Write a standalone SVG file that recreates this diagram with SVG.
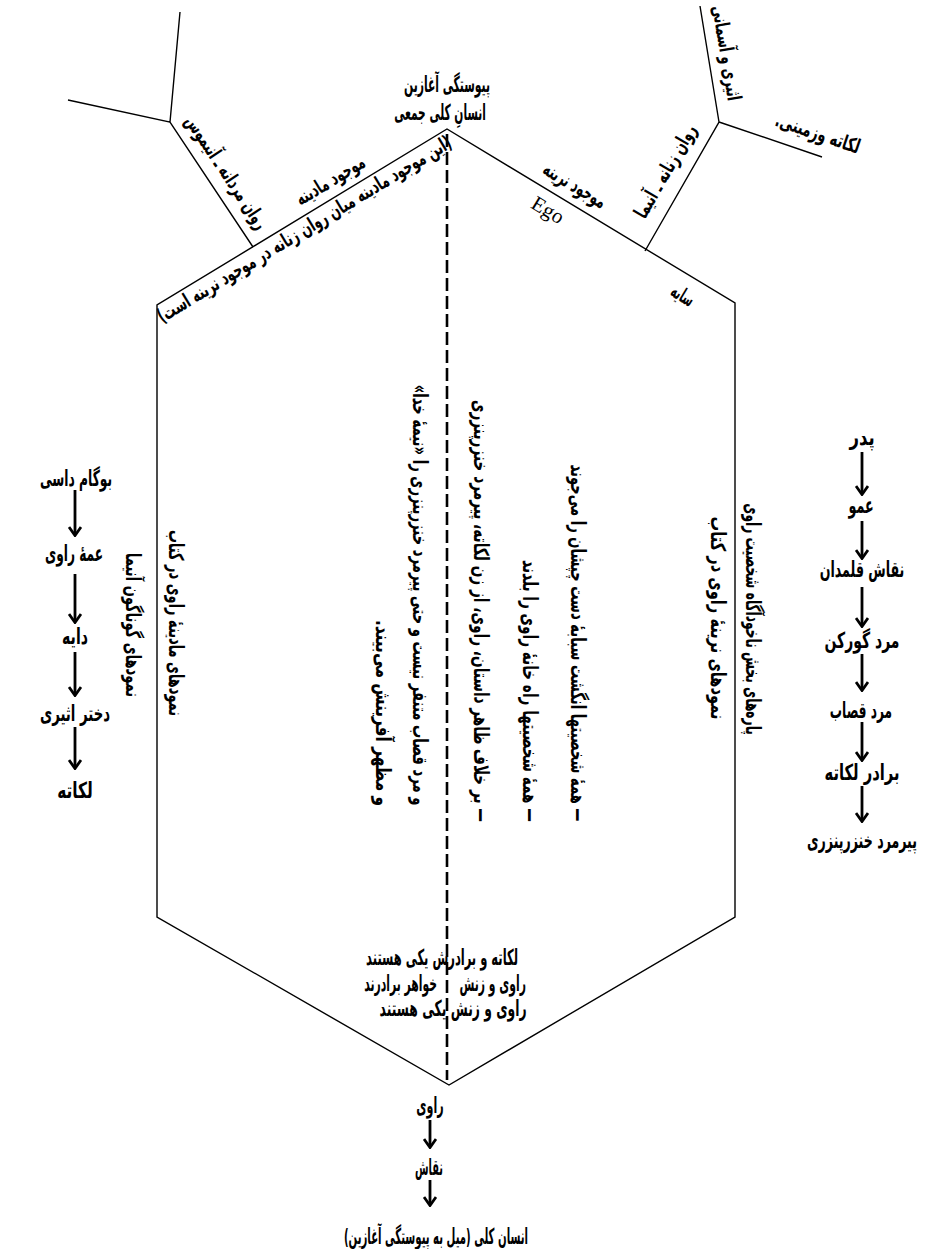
<svg xmlns="http://www.w3.org/2000/svg" width="940" height="1249" viewBox="0 0 940 1249">
<style>
.e{fill:none;stroke:#000;stroke-width:1.4;stroke-linejoin:miter}
.d{fill:none;stroke:#000;stroke-width:2.6;stroke-dasharray:13 5}
.a{fill:none;stroke:#000;stroke-width:2.8;marker-end:url(#ah)}
.t{font-family:"DejaVu Sans",sans-serif;font-size:22px;fill:#000;font-weight:bold}
.r{font-family:"DejaVu Sans",sans-serif;font-size:20px;fill:#000;font-weight:bold}
.v{font-family:"DejaVu Sans",sans-serif;font-size:20.5px;fill:#000;font-weight:bold}
.s{font-family:"Liberation Serif",serif;font-size:21px;fill:#000}
</style>
<defs>
<marker id="ah" viewBox="0 0 11 14" refX="9" refY="7" markerWidth="11" markerHeight="14" markerUnits="userSpaceOnUse" orient="auto">
<path d="M1,1 L9.5,7 L1,13" fill="none" stroke="#000" stroke-width="2.8"/>
</marker>
</defs>
<rect width="940" height="1249" fill="#fff"/>

<g id="hexagon">
<path class="e" d="M157,917 L157,305 L447,129 L735,303 L735,917 L449,1085 Z"/>
</g>

<g id="connectors">
<line class="d" x1="447" y1="134" x2="447" y2="1080"/>
<path class="e" d="M253,247 L170,122 L68,100 M170,122 L180,12"/>
<path class="e" d="M645,251 L719,122 L700,6 M719,122 L822,157"/>
<line class="a" x1="75" y1="490" x2="75" y2="535"/>
<line class="a" x1="75" y1="574" x2="75" y2="622"/>
<line class="a" x1="75" y1="652" x2="75" y2="695"/>
<line class="a" x1="75" y1="727" x2="75" y2="768"/>
<line class="a" x1="862" y1="452" x2="862" y2="494"/>
<line class="a" x1="862" y1="521" x2="862" y2="558"/>
<line class="a" x1="862" y1="587" x2="862" y2="626"/>
<line class="a" x1="862" y1="654" x2="862" y2="690"/>
<line class="a" x1="862" y1="722" x2="862" y2="760"/>
<line class="a" x1="862" y1="786" x2="862" y2="821"/>
<line class="a" x1="430" y1="1120" x2="430" y2="1147"/>
<line class="a" x1="430" y1="1180" x2="430" y2="1205"/>
</g>

<g id="top">
<text class="t" direction="rtl" transform="translate(447,84) scale(0.7,1)" text-anchor="middle" dominant-baseline="central" textLength="123" lengthAdjust="spacingAndGlyphs">پیوستگی آغازین</text>
<text class="t" direction="rtl" transform="translate(440,112) scale(0.7,1)" text-anchor="middle" dominant-baseline="central" font-size="21" textLength="131" lengthAdjust="spacingAndGlyphs">انسانِ کلی جمعی</text>
</g>

<g id="mother-being">
<text class="r" direction="rtl" transform="translate(330,180) rotate(-31.3) scale(0.7,1)" text-anchor="middle" dominant-baseline="central" textLength="111" lengthAdjust="spacingAndGlyphs">موجود مادینه</text>
<text class="r" direction="rtl" transform="translate(304,229) rotate(-31.3) scale(0.7,1)" text-anchor="middle" dominant-baseline="central" textLength="486" lengthAdjust="spacingAndGlyphs">(این موجود مادینه میان روان زنانه در موجود نرینه است)</text>
</g>
<g id="animus">
<text class="r" direction="rtl" transform="translate(227,172) rotate(56.4) scale(0.7,1)" text-anchor="middle" dominant-baseline="central" textLength="189" lengthAdjust="spacingAndGlyphs">روان مردانه ـ آنیموس</text>
</g>
<g id="male-being">
<text class="r" direction="rtl" transform="translate(575,185) rotate(31.1) scale(0.7,1)" text-anchor="middle" dominant-baseline="central" textLength="100" lengthAdjust="spacingAndGlyphs">موجود نرینه</text>
<text class="s" transform="translate(548,210) rotate(31.1)" text-anchor="middle" dominant-baseline="central" textLength="34" lengthAdjust="spacingAndGlyphs">Ego</text>
<text class="r" direction="rtl" transform="translate(683,295) rotate(31.1) scale(0.7,1)" text-anchor="middle" dominant-baseline="central" textLength="34" lengthAdjust="spacingAndGlyphs">سایه</text>
</g>
<g id="anima">
<text class="r" direction="rtl" transform="translate(665,171) rotate(-60) scale(0.7,1)" text-anchor="middle" dominant-baseline="central" textLength="149" lengthAdjust="spacingAndGlyphs">روان زنانه ـ آنیما</text>
<text class="r" direction="rtl" transform="translate(727,53) rotate(80.5) scale(0.7,1)" text-anchor="middle" dominant-baseline="central" textLength="137" lengthAdjust="spacingAndGlyphs">اثیری و آسمانی</text>
<text class="r" direction="rtl" transform="translate(818,133) rotate(18.8) scale(0.7,1)" text-anchor="middle" dominant-baseline="central" textLength="126" lengthAdjust="spacingAndGlyphs">لکاته وزمینی.</text>
</g>

<g id="female-column">
<text class="v" direction="rtl" transform="translate(176,623) rotate(90) scale(0.7,1)" text-anchor="middle" dominant-baseline="central" textLength="266" lengthAdjust="spacingAndGlyphs">نمودهای مادینهٔ راوی در کتاب</text>
<text class="v" direction="rtl" transform="translate(133,625) rotate(90) scale(0.7,1)" text-anchor="middle" dominant-baseline="central" textLength="206" lengthAdjust="spacingAndGlyphs">نمودهای گوناگون آنیما</text>
</g>
<g id="male-column">
<text class="v" direction="rtl" transform="translate(753,619) rotate(90) scale(0.7,1)" text-anchor="middle" dominant-baseline="central" textLength="331" lengthAdjust="spacingAndGlyphs">پاره‌های بخش ناخودآگاه شخصیت راوی</text>
<text class="v" direction="rtl" transform="translate(718,618) rotate(90) scale(0.7,1)" text-anchor="middle" dominant-baseline="central" textLength="290" lengthAdjust="spacingAndGlyphs">نمودهای نرینهٔ راوی در کتاب</text>
</g>
<g id="center-notes">
<text class="v" direction="rtl" transform="translate(578,643) rotate(90) scale(0.7,1)" text-anchor="middle" dominant-baseline="central" textLength="510" lengthAdjust="spacingAndGlyphs">— همهٔ شخصیتها انگشت سبابهٔ دست چپشان را می&#x200C;جوند</text>
<text class="v" direction="rtl" transform="translate(530,691) rotate(90) scale(0.7,1)" text-anchor="middle" dominant-baseline="central" textLength="374" lengthAdjust="spacingAndGlyphs">— همهٔ شخصیتها راه خانهٔ راوی را بلدند</text>
<text class="v" direction="rtl" transform="translate(481,611) rotate(90) scale(0.7,1)" text-anchor="middle" dominant-baseline="central" textLength="603" lengthAdjust="spacingAndGlyphs">— بر خلاف ظاهر داستان، راوی، از زن لکاته، پیرمرد خنزرپنزری</text>
<text class="v" direction="rtl" transform="translate(420,595) rotate(90) scale(0.7,1)" text-anchor="middle" dominant-baseline="central" textLength="601" lengthAdjust="spacingAndGlyphs">و مرد قصاب متنفر نیست و حتی پیرمرد خنزرپنزری را «نیمهٔ خدا»</text>
<text class="v" direction="rtl" transform="translate(383,713) rotate(90) scale(0.7,1)" text-anchor="middle" dominant-baseline="central" textLength="266" lengthAdjust="spacingAndGlyphs">و مظهر آفرینش می&#x200C;بیند.</text>
</g>
<g id="unity">
<text class="t" direction="rtl" transform="translate(442,957) scale(0.7,1)" text-anchor="middle" dominant-baseline="central" font-size="21" textLength="217" lengthAdjust="spacingAndGlyphs">لکاته و برادرش یکی هستند</text>
<text class="t" direction="rtl" xml:space="preserve" transform="translate(445,983) scale(0.7,1)" text-anchor="middle" dominant-baseline="central" font-size="21" textLength="231" lengthAdjust="spacingAndGlyphs">راوی و زنش      خواهر برادرند</text>
<text class="t" direction="rtl" transform="translate(453,1008) scale(0.7,1)" text-anchor="middle" dominant-baseline="central" font-size="21" textLength="210" lengthAdjust="spacingAndGlyphs">راوی و زنش یکی هستند</text>
</g>

<g id="left-chain">
<text class="t" direction="rtl" transform="translate(76,478) scale(0.7,1)" text-anchor="middle" dominant-baseline="central" textLength="103" lengthAdjust="spacingAndGlyphs">بوگام داسی</text>
<text class="t" direction="rtl" transform="translate(74,553) scale(0.7,1)" text-anchor="middle" dominant-baseline="central" textLength="83" lengthAdjust="spacingAndGlyphs">عمهٔ راوی</text>
<text class="t" direction="rtl" transform="translate(75,636) scale(0.7,1)" text-anchor="middle" dominant-baseline="central" textLength="37" lengthAdjust="spacingAndGlyphs">دایه</text>
<text class="t" direction="rtl" transform="translate(75,713) scale(0.7,1)" text-anchor="middle" dominant-baseline="central" textLength="100" lengthAdjust="spacingAndGlyphs">دختر اثیری</text>
<text class="t" direction="rtl" transform="translate(75,790) scale(0.7,1)" text-anchor="middle" dominant-baseline="central" textLength="51" lengthAdjust="spacingAndGlyphs">لکاته</text>
</g>

<g id="right-chain">
<text class="t" direction="rtl" transform="translate(862,437) scale(0.7,1)" text-anchor="middle" dominant-baseline="central" textLength="36" lengthAdjust="spacingAndGlyphs">پدر</text>
<text class="t" direction="rtl" transform="translate(861,505) scale(0.7,1)" text-anchor="middle" dominant-baseline="central" textLength="36" lengthAdjust="spacingAndGlyphs">عمو</text>
<text class="t" direction="rtl" transform="translate(862,569) scale(0.7,1)" text-anchor="middle" dominant-baseline="central" textLength="121" lengthAdjust="spacingAndGlyphs">نقاش قلمدان</text>
<text class="t" direction="rtl" transform="translate(862,640) scale(0.7,1)" text-anchor="middle" dominant-baseline="central" textLength="107" lengthAdjust="spacingAndGlyphs">مرد گورکن</text>
<text class="t" direction="rtl" transform="translate(861,710) scale(0.7,1)" text-anchor="middle" dominant-baseline="central" textLength="89" lengthAdjust="spacingAndGlyphs">مرد قصاب</text>
<text class="t" direction="rtl" transform="translate(862,772) scale(0.7,1)" text-anchor="middle" dominant-baseline="central" textLength="107" lengthAdjust="spacingAndGlyphs">برادر لکاته</text>
<text class="t" direction="rtl" transform="translate(862,840) scale(0.7,1)" text-anchor="middle" dominant-baseline="central" font-size="21" textLength="157" lengthAdjust="spacingAndGlyphs">پیرمرد خنزرپنزری</text>
</g>

<g id="bottom-chain">
<text class="t" direction="rtl" transform="translate(430,1105) scale(0.7,1)" text-anchor="middle" dominant-baseline="central" textLength="39" lengthAdjust="spacingAndGlyphs">راوی</text>
<text class="t" direction="rtl" transform="translate(429,1167) scale(0.7,1)" text-anchor="middle" dominant-baseline="central" textLength="40" lengthAdjust="spacingAndGlyphs">نقاش</text>
<text class="t" direction="rtl" transform="translate(436,1236) scale(0.7,1)" text-anchor="middle" dominant-baseline="central" font-size="21" textLength="263" lengthAdjust="spacingAndGlyphs">انسان کلی (میل به پیوستگی آغازین)</text>
</g>
</svg>
